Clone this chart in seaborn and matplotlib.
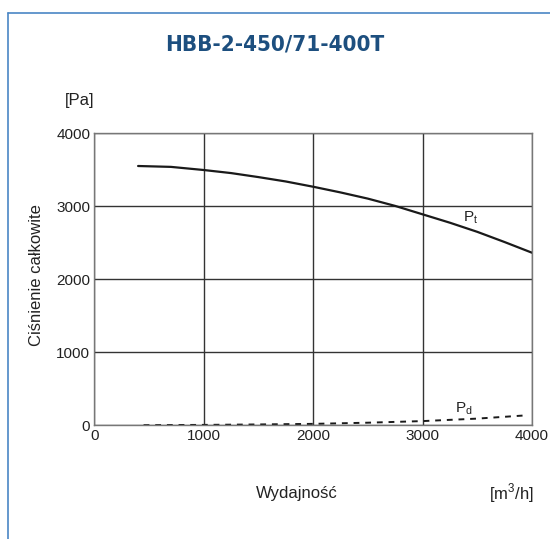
import matplotlib
matplotlib.use('Agg')
import matplotlib.pyplot as plt
from matplotlib.lines import Line2D
import seaborn as sns
import pandas as pd

# Dane
flow = [400, 700, 1000, 1250, 1500, 1750, 2000, 2250, 2500, 2750, 3000, 3250, 3500, 3750, 4000]
p_total = [3552, 3540, 3497, 3455, 3400, 3340, 3268, 3190, 3105, 3005, 2890, 2775, 2650, 2510, 2364]
flow_d = [450, 1000, 1500, 2000, 2500, 3000, 3500, 3950]
p_dyn = [2, 6, 12, 20, 36, 58, 92, 137]

x_ticks = [0, 1000, 2000, 3000, 4000]
y_ticks = [0, 1000, 2000, 3000, 4000]

sns.set_style("white")
plt.rcParams['font.family'] = ['Liberation Sans', 'DejaVu Sans']

fig = plt.figure(figsize=(5.5, 5.39), dpi=100)
ax = fig.add_axes([0.1715, 0.2109, 0.7958, 0.5418])

df_t = pd.DataFrame({'x': flow, 'y': p_total})
df_d = pd.DataFrame({'x': flow_d, 'y': p_dyn})
sns.lineplot(data=df_t, x='x', y='y', ax=ax, color='#1a1a1a', linewidth=1.6)
sns.lineplot(data=df_d, x='x', y='y', ax=ax, color='#1a1a1a', linewidth=1.4,
             linestyle=(0, (3, 3)))

ax.set_xlim(0, 4000)
ax.set_ylim(0, 4000)
ax.set_xticks(x_ticks)
ax.set_yticks(y_ticks)
ax.tick_params(axis='both', labelsize=11, colors='#222222', length=0, pad=3)
ax.grid(True, color='#333333', linewidth=1)
for s in ax.spines.values():
    s.set_color('#777777')
    s.set_linewidth(1)
ax.set_xlabel('')
ax.set_ylabel('')

ax.text(3370, 2800, r'P$_\mathregular{t}$', fontsize=11, color='#222222')
ax.text(3300, 180, r'P$_\mathregular{d}$', fontsize=11, color='#222222')

fig.text(0.5, 0.918, 'HBB-2-450/71-400T', ha='center', va='center',
         fontsize=16, fontweight='bold', fontstretch='condensed', color='#1d4f7f',
         family=['DejaVu Sans'])
fig.text(0.145, 0.814, '[Pa]', ha='center', va='center', fontsize=12, color='#222222')
fig.text(0.067, 0.49, 'Ciśnienie całkowite', ha='center', va='center',
         rotation=90, fontsize=12, color='#222222')
fig.text(0.54, 0.085, 'Wydajność', ha='center', va='center', fontsize=12, color='#222222')
fig.text(0.93, 0.085, r'[m$^\mathregular{3}$/h]', ha='center', va='center',
         fontsize=12, color='#222222')

# ramka
fig.add_artist(Line2D([8 / 550, 8 / 550], [0, 1 - 13 / 539],
                      transform=fig.transFigure, color='#4a86c5', linewidth=1.2))
fig.add_artist(Line2D([8 / 550, 1], [1 - 13 / 539, 1 - 13 / 539],
                      transform=fig.transFigure, color='#4a86c5', linewidth=1.2))

fig.savefig('out.png', dpi=100)
